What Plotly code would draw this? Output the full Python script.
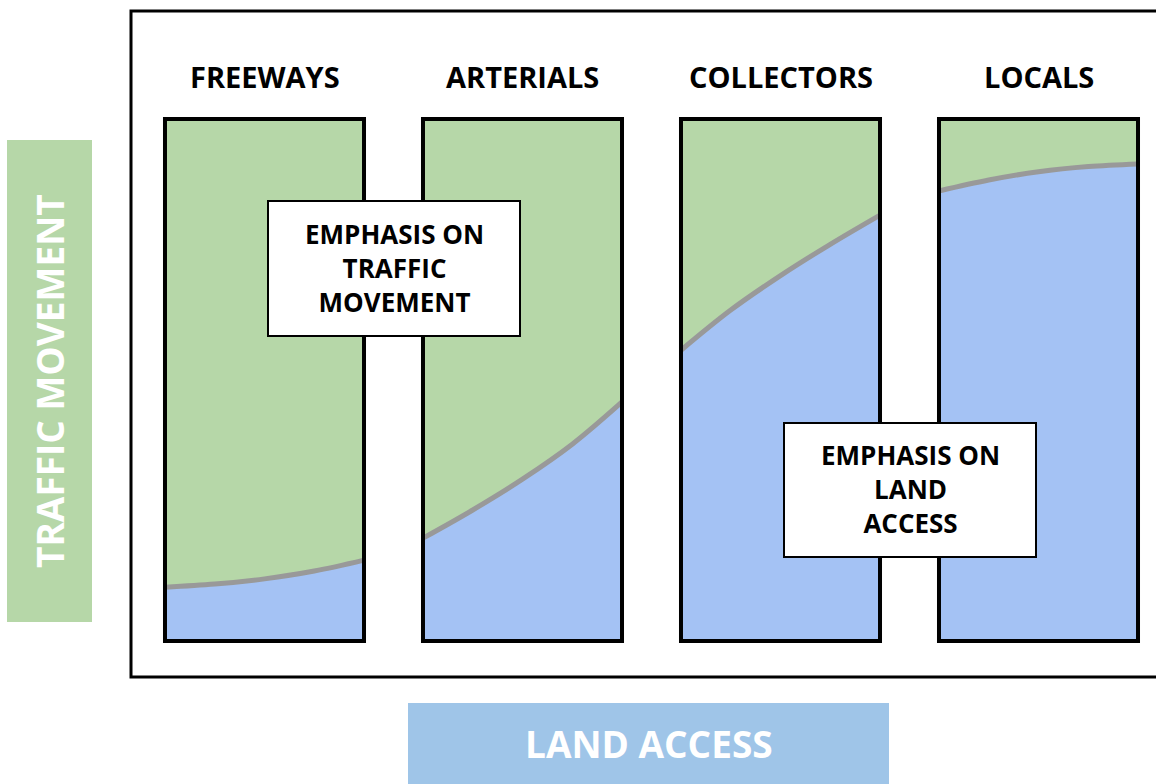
import plotly.graph_objects as go

# ---- data ----
categories = ["FREEWAYS", "ARTERIALS", "COLLECTORS", "LOCALS"]
# fraction across each column where the boundary was sampled
sample_pos = [0.0, 0.25, 0.5, 0.75, 1.0]
# share of column height devoted to land access (blue) at those positions
land_access_share = {
    "FREEWAYS":   [0.103, 0.109, 0.119, 0.134, 0.155],
    "ARTERIALS":  [0.197, 0.251, 0.310, 0.377, 0.458],
    "COLLECTORS": [0.557, 0.634, 0.700, 0.760, 0.816],
    "LOCALS":     [0.862, 0.883, 0.899, 0.909, 0.914],
}
box_labels = [["EMPHASIS ON", "TRAFFIC", "MOVEMENT"], ["EMPHASIS ON", "LAND", "ACCESS"]]
axis_labels = ["TRAFFIC MOVEMENT", "LAND ACCESS"]

# ---- style ----
W, H = 1156, 784
GREEN = "#b6d7a8"
BLUE = "#a4c2f4"
GREY = "#999999"
FONT = "Open Sans"
HW = 0.3857  # half column width in x units

def px(x):
    return x / W

def py(y):
    return 1 - y / H

fig = go.Figure()

shapes = []
annotations = []

for i, cat in enumerate(categories):
    left, right = i - HW, i + HW
    # green column background (traffic movement)
    fig.add_trace(go.Scatter(
        x=[left, right, right, left, left], y=[0, 0, 1, 1, 0],
        mode="lines", fill="toself", fillcolor=GREEN,
        line=dict(width=0, color=GREEN), hoverinfo="skip", showlegend=False))
    xs = [left + p * (right - left) for p in sample_pos]
    ys = land_access_share[cat]
    # blue land-access area + grey boundary
    fig.add_trace(go.Scatter(
        x=xs, y=ys, mode="lines", fill="tozeroy", fillcolor=BLUE,
        line=dict(color=GREY, width=5, shape="spline", smoothing=1.0),
        hoverinfo="skip", showlegend=False))
    shapes.append(dict(type="rect", xref="x", yref="y", x0=left, x1=right, y0=0, y1=1,
                       line=dict(color="black", width=4), layer="above"))
    annotations.append(dict(x=i, y=py(77), xref="x", yref="paper", text=cat,
                            showarrow=False, xanchor="center", yanchor="middle",
                            font=dict(family=FONT, size=29, color="black", weight="bold")))

# outer frame
shapes.append(dict(type="rect", xref="paper", yref="paper",
                   x0=px(131), x1=px(1170), y0=py(677), y1=py(11),
                   line=dict(color="black", width=3), layer="above"))

# emphasis boxes
for (x0, y0, x1, y1), lines in zip([(268, 201, 520, 336), (784, 423, 1036, 557)], box_labels):
    shapes.append(dict(type="rect", xref="paper", yref="paper",
                       x0=px(x0), x1=px(x1), y0=py(y1), y1=py(y0),
                       fillcolor="white", line=dict(color="black", width=2), layer="above"))
    annotations.append(dict(x=px((x0 + x1) / 2), y=py((y0 + y1) / 2 - 1),
                            xref="paper", yref="paper",
                            text="<br>".join(lines), showarrow=False,
                            xanchor="center", yanchor="middle", align="center",
                            font=dict(family=FONT, size=26, color="black", weight="bold")))

# side label boxes
shapes.append(dict(type="rect", xref="paper", yref="paper",
                   x0=px(7), x1=px(92), y0=py(622), y1=py(140),
                   fillcolor=GREEN, line=dict(width=0), layer="above"))
annotations.append(dict(x=px(49), y=py(381), xref="paper", yref="paper",
                        text=axis_labels[0], textangle=-90, showarrow=False,
                        xanchor="center", yanchor="middle",
                        font=dict(family=FONT, size=37, color="white", weight="bold")))
shapes.append(dict(type="rect", xref="paper", yref="paper",
                   x0=px(408), x1=px(889), y0=py(790), y1=py(703),
                   fillcolor="#9fc5e8", line=dict(width=0), layer="above"))
annotations.append(dict(x=px(649), y=py(743), xref="paper", yref="paper",
                        text=axis_labels[1], showarrow=False,
                        xanchor="center", yanchor="middle",
                        font=dict(family=FONT, size=37, color="white", weight="bold")))

fig.update_layout(
    width=W, height=H,
    margin=dict(l=0, r=0, t=0, b=0),
    paper_bgcolor="white", plot_bgcolor="white",
    xaxis=dict(range=[-264.5 / 258, (W - 264.5) / 258], visible=False, fixedrange=True),
    yaxis=dict(range=[-0.27395, 1.22797], visible=False, fixedrange=True),
    shapes=shapes, annotations=annotations, showlegend=False,
)

fig.write_html("out.html", config={"displayModeBar": False},
               post_script="document.body.style.margin='0px';document.body.style.overflow='hidden';")
